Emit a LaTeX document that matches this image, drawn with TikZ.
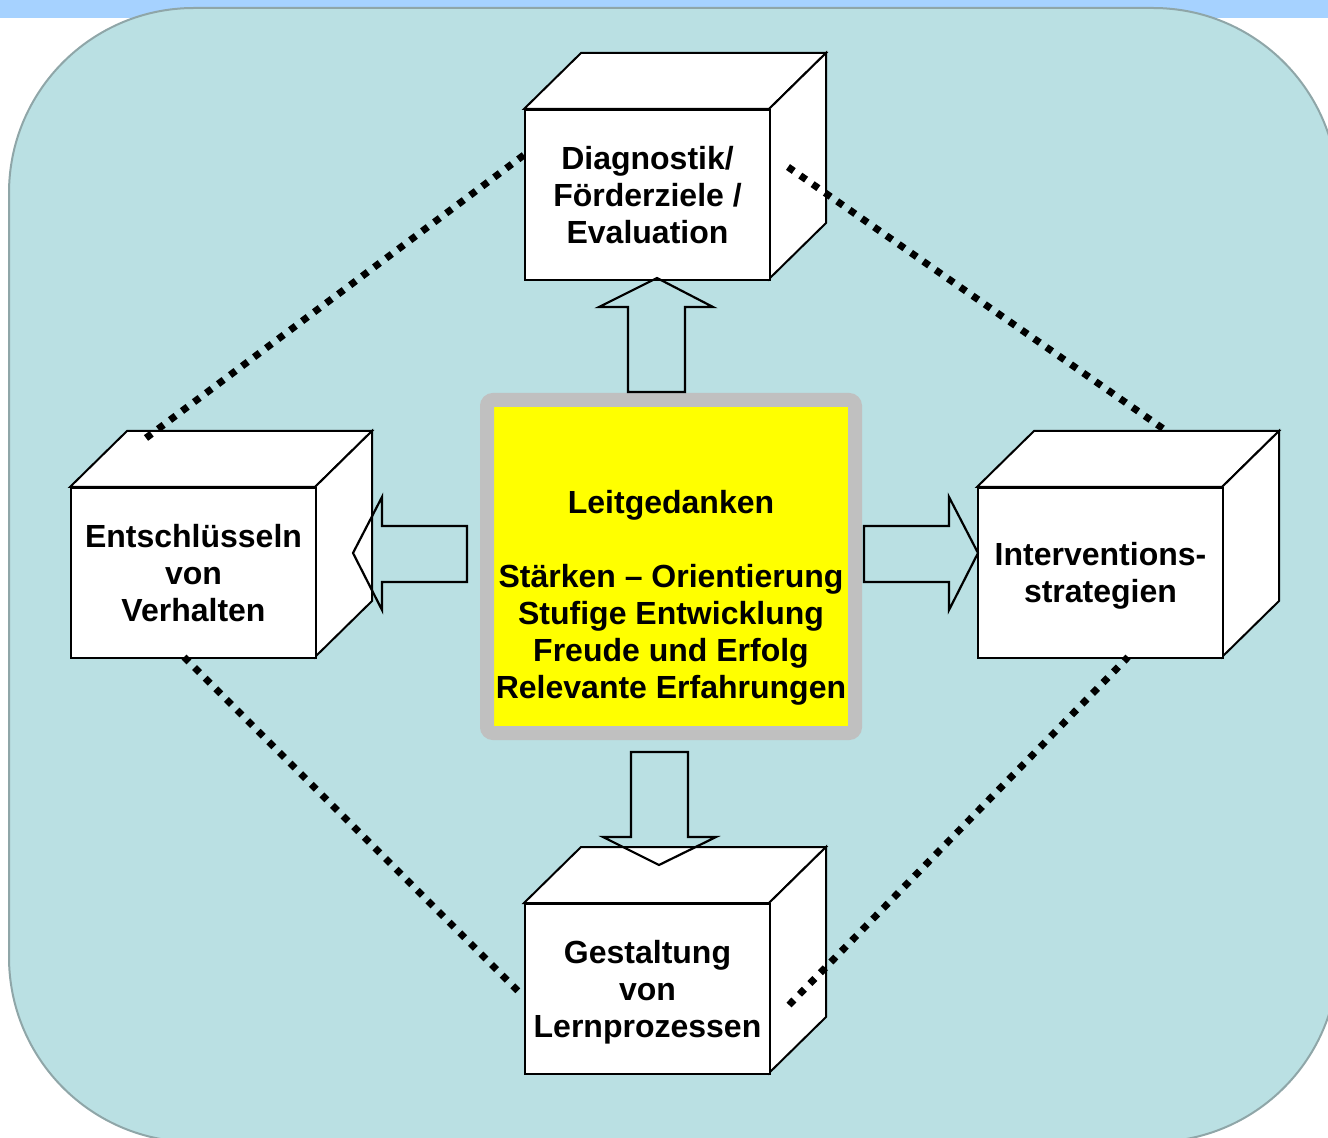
\documentclass[tikz,border=0pt]{standalone}
\usepackage{fontspec}
\setmainfont{Liberation Sans}
\definecolor{stripblue}{HTML}{A6D2FF}
\definecolor{panel}{HTML}{BAE0E3}
\definecolor{panelline}{HTML}{8FA6A8}
\definecolor{boxgray}{HTML}{C0C0C0}
\definecolor{boxyellow}{HTML}{FFFF00}
\newcommand\mycube[5]{%
  \begin{scope}[shift={(#2,#3)}]
    \draw[cubeface] (0,0) -- (57,-56) -- (302,-56) -- (245,0) -- cycle;
    \draw[cubeface] (245,0) -- (302,-56) -- (302,114) -- (245,170) -- cycle;
    \node[cubeface,anchor=north west,minimum width=122.5pt,minimum height=85pt,inner sep=0pt] (#1) at (0,0) {};
  \end{scope}
  \node[lbl] (#1-text) at ([yshift=#5]#1.center) {#4};}
\begin{document}
\begin{tikzpicture}[x=0.5pt,y=-0.5pt,
  cubeface/.style={fill=white,draw=black,line width=1pt,line join=miter},
  blockarrow/.style={draw=black,line width=1.1pt,line join=miter},
  dotline/.style={draw=black,line width=3.5pt,dash pattern=on 3.5pt off 4pt,line cap=butt},
  lbl/.style={font=\bfseries\fontsize{16}{18.5}\selectfont,align=center,text=black}]
\useasboundingbox (0,0) rectangle (1328,1138);
\clip (0,0) rectangle (1328,1138);
\fill[white] (0,0) rectangle (1328,1138);
\fill[stripblue] (0,0) rectangle (1328,18);
\draw[fill=panel,draw=panelline,line width=1pt,rounded corners=92.5pt] (9,8) rectangle (1338,1142);

% cubes
\mycube{diag}{524}{109}{Diagnostik/\\Förderziele /\\Evaluation}{0pt}
\mycube{entsch}{70}{487}{Entschlüsseln\\von\\Verhalten}{0pt}
\mycube{interv}{977}{487}{Interventions-\\strategien}{-1.5pt}
\mycube{gestalt}{524}{903}{Gestaltung\\von\\Lernprozessen}{-1.5pt}

% center box
\node[fill=boxyellow,draw=boxgray,line width=7pt,rounded corners=3pt,minimum width=184pt,minimum height=166.5pt,inner sep=0pt] (leit) at (671,566.5) {};
\node[lbl] (leittext) at (671,598) {Leitgedanken\\[18.5pt]Stärken – Orientierung\\Stufige Entwicklung\\Freude und Erfolg\\Relevante Erfahrungen};

% block arrows
\draw[blockarrow] (628,392) -- (628,307) -- (599,307) -- (657,278) -- (713,307) -- (685,307) -- (685,392) -- cycle;
\draw[blockarrow] (631,752) -- (688,752) -- (688,837) -- (716,837) -- (659,865) -- (603,837) -- (631,837) -- cycle;
\draw[blockarrow] (467,526) -- (382,526) -- (382,497) -- (353,553) -- (382,610) -- (382,582) -- (467,582) -- cycle;
\draw[blockarrow] (864,526) -- (949,526) -- (949,497) -- (978,553) -- (949,610) -- (949,582) -- (864,582) -- cycle;

% dotted connectors
\coordinate (tlA) at (146,438);
\coordinate (tlB) at (524,155);
\coordinate (trA) at (788,167);
\coordinate (trB) at (1165,430);
\coordinate (blA) at (184,657);
\coordinate (blB) at (522,995);
\coordinate (brA) at (789,1005);
\coordinate (brB) at (1128,657);
\draw[dotline] (tlA) -- (tlB);
\draw[dotline] (trA) -- (trB);
\draw[dotline] (blA) -- (blB);
\draw[dotline] (brA) -- (brB);
\end{tikzpicture}
\end{document}
